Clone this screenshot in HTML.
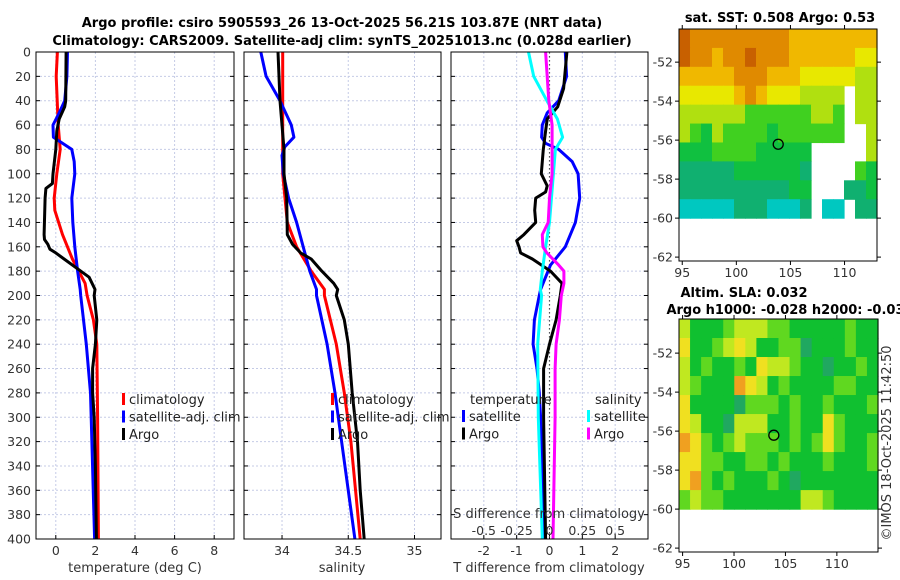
<!DOCTYPE html>
<html><head><meta charset="utf-8"><style>
body{margin:0;background:#fff}
svg{display:block;font-family:"DejaVu Sans","Liberation Sans",sans-serif}
.tk{font-size:12.5px;fill:#333}
.ttl{font-size:13px;font-weight:bold;fill:#000}
.lg{font-size:13px;fill:#222}
</style></head><body>
<svg id="fig" width="900" height="580" viewBox="0 0 900 580">
<text class="ttl" x="342" y="27" text-anchor="middle">Argo profile: csiro 5905593_26 13-Oct-2025 56.21S 103.87E (NRT data)</text>
<text class="ttl" x="342" y="45" text-anchor="middle">Climatology: CARS2009. Satellite-adj clim: synTS_20251013.nc (0.028d earlier)</text>
<text class="ttl" x="780" y="22" text-anchor="middle">sat. SST: 0.508 Argo: 0.53</text>
<text class="ttl" x="744" y="297" text-anchor="middle">Altim. SLA: 0.032</text>
<text class="ttl" x="790" y="314" text-anchor="middle">Argo h1000: -0.028 h2000: -0.032</text>
<text class="tk" transform="translate(891,443) rotate(-90)" text-anchor="middle" style="font-size:13px">©IMOS 18-Oct-2025 11:42:50</text>
<g id="plots"></g>
</svg>
<script>
// ---- profile data ----
const depthTclim=[0,20,60,80,100,120,130,150,170,190,200,220,240,300,400];
const tempClim=[0.08,0.02,0.12,0.22,0.05,-0.08,-0.05,0.34,0.84,1.48,1.58,1.9,2.07,2.11,2.15];
const depthTsat=[0,20,40,50,60,70,80,90,100,120,140,160,180,195,200,240,280,300,400];
const tempSat=[0.59,0.56,0.45,0.17,-0.14,-0.12,0.81,0.93,0.96,0.81,0.86,0.96,1.1,1.23,1.26,1.54,1.75,1.79,1.96];
const depthTargo=[0,40,45,55,65,80,100,108,112,120,150,154,158,162,165,170,180,185,195,200,220,240,260,280,300,340,400];
const tempArgo=[0.52,0.5,0.45,0.17,0.05,0,-0.14,-0.17,-0.5,-0.54,-0.59,-0.57,-0.4,-0.3,0.0,0.42,1.26,1.68,1.98,1.94,2.07,2.0,1.86,1.86,1.94,2.0,2.05];
const depthSclim=[0,100,140,160,180,195,200,240,280,320,400];
const salClim=[34.005,34.005,34.04,34.11,34.22,34.32,34.32,34.41,34.47,34.52,34.59];
const depthSsat=[0,20,40,60,70,78,85,100,120,140,160,180,195,200,240,280,320,400];
const salSat=[33.84,33.88,33.985,34.07,34.09,34.02,34.0,34.01,34.05,34.11,34.16,34.21,34.26,34.26,34.34,34.40,34.45,34.55];
const depthSargo=[0,40,80,100,120,150,158,165,170,180,190,195,200,220,240,280,320,360,400];
const salArgo=[33.97,33.985,34.015,34.015,34.035,34.04,34.08,34.14,34.22,34.30,34.39,34.42,34.41,34.47,34.50,34.53,34.57,34.59,34.62];
const depthDTsat=[0,20,40,50,60,70,75,80,90,100,120,140,160,175,195,200,220,240,260,280,300,400];
const dTsat=[0.48,0.52,0.28,-0.07,-0.22,-0.24,-0.12,0.28,0.69,0.87,0.92,0.79,0.48,0.03,-0.27,-0.31,-0.46,-0.5,-0.38,-0.31,-0.27,-0.15];
const depthDTargo=[0,30,45,55,65,80,100,110,115,120,130,140,150,155,160,165,170,180,190,200,220,240,260,300,400];
const dTargo=[0.53,0.43,0.25,-0.07,-0.12,-0.19,-0.25,-0.07,-0.12,-0.42,-0.45,-0.42,-0.78,-1.0,-0.93,-0.88,-0.52,0.03,0.38,0.33,0.2,0.0,-0.18,-0.18,-0.12];
const depthDSsat=[0,20,40,55,70,80,100,140,160,180,195,200,240,300,400];
const dSsat=[-0.16,-0.12,-0.02,0.06,0.1,0.045,0.03,0.0,-0.03,-0.055,-0.07,-0.06,-0.09,-0.085,-0.055];
const depthDSargo=[0,40,60,100,120,140,150,160,165,175,180,190,200,220,240,260,300,400];
const dSargo=[-0.03,-0.005,0.02,0.02,0.0,-0.01,-0.055,-0.05,-0.02,0.07,0.11,0.11,0.09,0.075,0.05,0.043,0.043,0.027];
const depthTicks=[0,20,40,60,80,100,120,140,160,180,200,220,240,260,280,300,320,340,360,380,400];
const tempTicks=[0,2,4,6,8];
const salTicks=[34,34.5,35];
const salTickLabels=["34","34.5","35"];
const dTTicks=[-2,-1,0,1,2];
const dSTicks=[-0.5,-0.25,0,0.25,0.5];
const dSTickLabels=["-0.5","-0.25","0","0.25","0.5"];
// ---- map data (level codes per 1° lon x 1° lat cell, '.' = no data) ----
const sstRows=["877777777766666666","877677877766666655","666667776665555544","555556765554444.44","444444333333443.44","432433332333333..4","222333322222.....4","111112222221....32","111111111122...112","000001110001.00.11"];
const slaRows=["422234443322222322","522345422331222322","423223254432212232","432226542322223322","522221333232232223","542214442232253222","653234333232353223","553322332322232223","563232223212222222","343322222224432222"];
const argoLon=103.87, argoLat=-56.21;
const lonTicks=[95,100,105,110];
const latTicks=[-52,-54,-56,-58,-60,-62];

const NS="http://www.w3.org/2000/svg";
const G=document.getElementById('plots');
function mk(tag,attrs,parent){const e=document.createElementNS(NS,tag);for(const k in attrs)e.setAttribute(k,attrs[k]);(parent||G).appendChild(e);return e;}
function txt(s,attrs,parent){const e=mk('text',attrs,parent);e.textContent=s;return e;}

const Y0=52,Y1=539;
const yD=d=>Y0+(d/400)*(Y1-Y0);

function panel(name,x0,x1,dmin,dmax){
  const g=mk('g',{});
  
  
  const sx=v=>x0+(v-dmin)/(dmax-dmin)*(x1-x0);
  return {g,sx,x0,x1};
}
function grid(p,xt,showY){
  depthTicks.forEach(d=>{
    const l=mk('line',{x1:p.x0,x2:p.x1,y1:yD(d),y2:yD(d),stroke:'#c5cbe6','stroke-width':1,'stroke-dasharray':'2,2'},p.g);
    
    
    mk('line',{x1:p.x0,x2:p.x0+4,y1:yD(d),y2:yD(d),stroke:'#000'},p.g);
    mk('line',{x1:p.x1-4,x2:p.x1,y1:yD(d),y2:yD(d),stroke:'#000'},p.g);
    if(showY){const t=txt(String(d),{x:p.x0-5,y:yD(d)+4.5,'text-anchor':'end',class:'tk'},p.g);
      
      }
  });
  xt.forEach(v=>{
    const l=mk('line',{x1:p.sx(v),x2:p.sx(v),y1:Y0,y2:Y1,stroke:'#c5cbe6','stroke-width':1,'stroke-dasharray':'2,2'},p.g);
    
    
    mk('line',{x1:p.sx(v),x2:p.sx(v),y1:Y1,y2:Y1-4,stroke:'#000'},p.g);
  });
}
function frame(p){
  const r=mk('rect',{x:p.x0,y:Y0,width:p.x1-p.x0,height:Y1-Y0,fill:'none',stroke:'#000','stroke-width':1},p.g);
  
  
}
function series(p,vals,depths,color,name,sx){
  const f=sx||p.sx;
  const pts=vals.map((v,i)=>f(v).toFixed(1)+','+yD(depths[i]).toFixed(1)).join(' ');
  const pl=mk('polyline',{points:pts,fill:'none',stroke:color,'stroke-width':3,'stroke-linejoin':'round'},p.g);
  
  
}
function legend(p,x,y,items){
  items.forEach((it,i)=>{
    mk('rect',{x:x,y:y+i*17.5-11,width:3,height:12,fill:it[1]},p.g);
    const t=txt(it[0],{x:x+7,y:y+i*17.5,class:'lg'},p.g);
    
    
  });
}
// Panel 1: temperature
const p1=panel('temperature-panel',36,234,-1,9);
grid(p1,tempTicks,true);
series(p1,tempClim,depthTclim,'#ff0000','temp-climatology-line');
series(p1,tempSat,depthTsat,'#0000ff','temp-satellite-line');
series(p1,tempArgo,depthTargo,'#000000','temp-argo-line');
frame(p1);
tempTicks.forEach(v=>{const t=txt(String(v),{x:p1.sx(v),y:555,'text-anchor':'middle',class:'tk'},p1.g);
  });
txt('temperature (deg C)',{x:135,y:572,'text-anchor':'middle',class:'tk',style:'font-size:13px'},p1.g);
legend(p1,122,404,[['climatology','#ff0000','climatology'],['satellite-adj. clim','#0000ff','satellite'],['Argo','#000','argo']]);

// Panel 2: salinity
const p2=panel('salinity-panel',244,441,33.713,35.2);
grid(p2,salTicks,false);
series(p2,salClim,depthSclim,'#ff0000','sal-climatology-line');
series(p2,salSat,depthSsat,'#0000ff','sal-satellite-line');
series(p2,salArgo,depthSargo,'#000000','sal-argo-line');
frame(p2);
salTicks.forEach((v,i)=>{const t=txt(salTickLabels[i],{x:p2.sx(v),y:555,'text-anchor':'middle',class:'tk'},p2.g);
  });
txt('salinity',{x:342,y:572,'text-anchor':'middle',class:'tk',style:'font-size:13px'},p2.g);
legend(p2,331,404,[['climatology','#ff0000','climatology'],['satellite-adj. clim','#0000ff','satellite'],['Argo','#000','argo']]);

// Panel 3: differences
const p3=panel('difference-panel',451,648,-3,3);
const sxS=v=>p3.x0+(v+0.75)/1.5*(p3.x1-p3.x0);
grid(p3,dTTicks,false);
mk('line',{x1:p3.sx(0),x2:p3.sx(0),y1:Y0,y2:Y1,stroke:'#555','stroke-width':1.2,'stroke-dasharray':'1.5,2.5'},p3.g);
series(p3,dTsat,depthDTsat,'#0000ff','dT-satellite-line');
series(p3,dTargo,depthDTargo,'#000000','dT-argo-line');
series(p3,dSsat,depthDSsat,'#00ffff','dS-satellite-line',sxS);
series(p3,dSargo,depthDSargo,'#ff00ff','dS-argo-line',sxS);
frame(p3);
dTTicks.forEach(v=>{const t=txt(String(v),{x:p3.sx(v),y:555,'text-anchor':'middle',class:'tk'},p3.g);
  });
dSTicks.forEach((v,i)=>{const t=txt(dSTickLabels[i],{x:sxS(v),y:535,'text-anchor':'middle',class:'tk'},p3.g);
  });
txt('S difference from climatology',{x:549,y:518,'text-anchor':'middle',class:'tk',style:'font-size:13px'},p3.g);
txt('T difference from climatology',{x:549,y:572,'text-anchor':'middle',class:'tk',style:'font-size:13px'},p3.g);
txt('temperature',{x:470,y:404,class:'lg'},p3.g);
txt('salinity',{x:595,y:404,class:'lg'},p3.g);
legend(p3,462,421,[['satellite','#0000ff','dT-satellite'],['Argo','#000','dT-argo']]);
legend(p3,587,421,[['satellite','#00ffff','dS-satellite'],['Argo','#ff00ff','dS-argo']]);

// Maps
function map(name,rows,cols,X0,X1,YT,YB,lonL,lonR,latT,latB){
  const g=mk('g',{});
  
  
  const mx=l=>X0+(l-lonL)/(lonR-lonL)*(X1-X0);
  const my=l=>YT+(latT-l)/(latT-latB)*(YB-YT);
  rows.forEach((r,i)=>{
    const la0=latT-i*(latT+60)/rows.length, la1=latT-(i+1)*(latT+60)/rows.length;
    [...r].forEach((c,j)=>{
      if(c==='.')return;
      const lo0=lonL+j*(lonR-lonL)/r.length, lo1=lonL+(j+1)*(lonR-lonL)/r.length;
      const rc=mk('rect',{x:mx(lo0),y:my(la0),width:mx(lo1)-mx(lo0)+0.6,height:my(la1)-my(la0)+0.6,fill:cols[+c]},g);
      
      
    });
  });
  const fr=mk('rect',{x:X0,y:YT,width:X1-X0,height:YB-YT,fill:'none',stroke:'#000'},g);
  
  
  latTicks.forEach(l=>{
    mk('line',{x1:X0-4,x2:X0,y1:my(l),y2:my(l),stroke:'#000'},g);
    mk('line',{x1:X1,x2:X1+4,y1:my(l),y2:my(l),stroke:'#000'},g);
    const t=txt(String(l),{x:X0-6,y:my(l)+4.5,'text-anchor':'end',class:'tk'},g);
    
  });
  lonTicks.forEach(l=>{
    mk('line',{x1:mx(l),x2:mx(l),y1:YB,y2:YB+4,stroke:'#000'},g);
    mk('line',{x1:mx(l),x2:mx(l),y1:YT,y2:YT-4,stroke:'#000'},g);
    const t=txt(String(l),{x:mx(l),y:YB+16,'text-anchor':'middle',class:'tk'},g);
    
  });
  const c=mk('circle',{cx:mx(argoLon),cy:my(argoLat),r:5,fill:'none',stroke:'#000','stroke-width':1.3},g);
  
  
}
map('sst-map',sstRows,['#00c8c0','#10b070','#10c040','#40d020','#b0e010','#e8e800','#f0b800','#e08a00','#c86000'],679,877,29,261,94.7,113,-50.3,-62.2);
map('sla-map',slaRows,['#00c8c0','#20a860','#10c030','#60d820','#c0e820','#f0e020','#f0a020'],679,878,319,552,94.65,114,-50.25,-62.2);
</script>
</body></html>
